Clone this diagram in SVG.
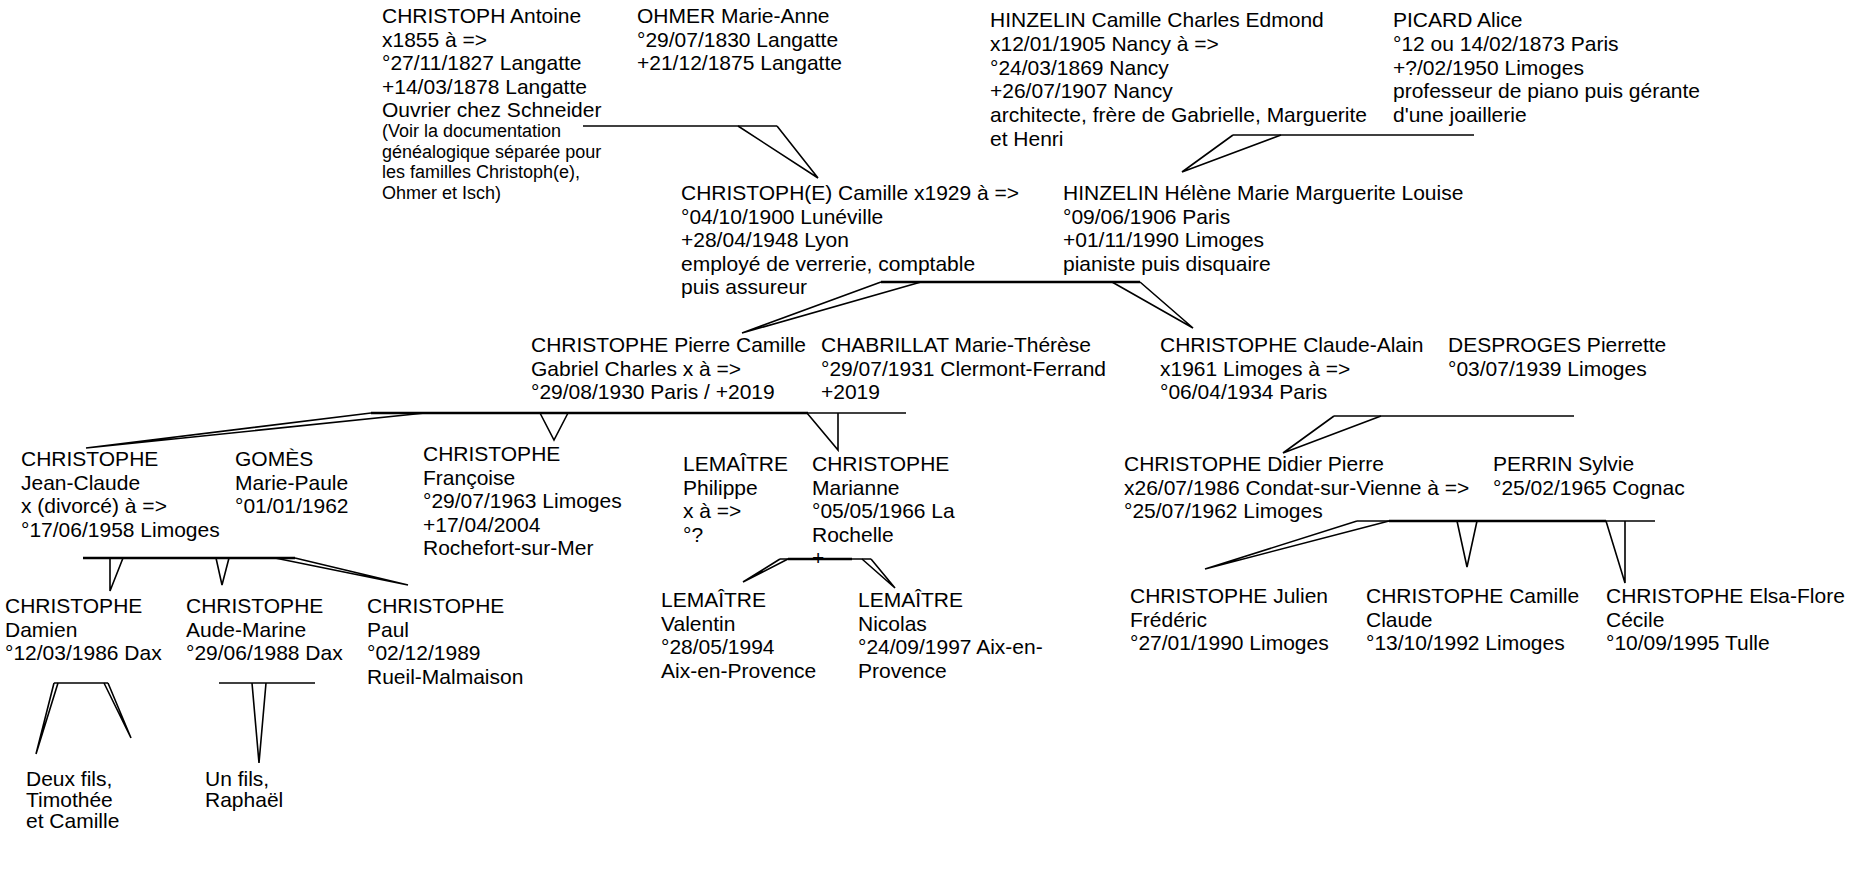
<svg xmlns="http://www.w3.org/2000/svg" width="1867" height="896" viewBox="0 0 1867 896">
<style>
text{font-family:"Liberation Sans",Arial,sans-serif;font-size:21px;fill:#000}
.s{font-size:18px}
.c line,.c polyline{stroke:#000;stroke-width:1.6;fill:none}
.c .t{stroke-width:2.6}
</style>
<rect width="1867" height="896" fill="#fff"/>
<g id="n-antoine"><text x="382" y="23"><tspan x="382">CHRISTOPH Antoine</tspan><tspan x="382" dy="23.5">x1855 à =&gt;</tspan><tspan x="382" dy="23.5">°27/11/1827 Langatte</tspan><tspan x="382" dy="23.5">+14/03/1878 Langatte</tspan><tspan x="382" dy="23.5">Ouvrier chez Schneider</tspan></text>
<text class="s" x="382" y="137"><tspan x="382">(Voir la documentation</tspan><tspan x="382" dy="20.6">généalogique séparée pour</tspan><tspan x="382" dy="20.6">les familles Christoph(e),</tspan><tspan x="382" dy="20.6">Ohmer et Isch)</tspan></text></g>
<g id="n-ohmer"><text x="637" y="23"><tspan x="637">OHMER Marie-Anne</tspan><tspan x="637" dy="23.5">°29/07/1830 Langatte</tspan><tspan x="637" dy="23.5">+21/12/1875 Langatte</tspan></text></g>
<g id="n-hinzelin-c"><text x="990" y="27"><tspan x="990">HINZELIN Camille Charles Edmond</tspan><tspan x="990" dy="23.8">x12/01/1905 Nancy à =&gt;</tspan><tspan x="990" dy="23.8">°24/03/1869 Nancy</tspan><tspan x="990" dy="23.8">+26/07/1907 Nancy</tspan><tspan x="990" dy="23.8">architecte, frère de Gabrielle, Marguerite</tspan><tspan x="990" dy="23.8">et Henri</tspan></text></g>
<g id="n-picard"><text x="1393" y="27"><tspan x="1393">PICARD Alice</tspan><tspan x="1393" dy="23.8">°12 ou 14/02/1873 Paris</tspan><tspan x="1393" dy="23.8">+?/02/1950 Limoges</tspan><tspan x="1393" dy="23.8">professeur de piano puis gérante</tspan><tspan x="1393" dy="23.8">d'une joaillerie</tspan></text></g>
<g id="n-camille"><text x="681" y="200"><tspan x="681">CHRISTOPH(E) Camille x1929 à =&gt;</tspan><tspan x="681" dy="23.5">°04/10/1900 Lunéville</tspan><tspan x="681" dy="23.5">+28/04/1948 Lyon</tspan><tspan x="681" dy="23.5">employé de verrerie, comptable</tspan><tspan x="681" dy="23.5">puis assureur</tspan></text></g>
<g id="n-helene"><text x="1063" y="200"><tspan x="1063">HINZELIN Hélène Marie Marguerite Louise</tspan><tspan x="1063" dy="23.5">°09/06/1906 Paris</tspan><tspan x="1063" dy="23.5">+01/11/1990 Limoges</tspan><tspan x="1063" dy="23.5">pianiste puis disquaire</tspan></text></g>
<g id="n-pierre"><text x="531" y="352"><tspan x="531">CHRISTOPHE Pierre Camille</tspan><tspan x="531" dy="23.5">Gabriel Charles x à =&gt;</tspan><tspan x="531" dy="23.5">°29/08/1930 Paris / +2019</tspan></text></g>
<g id="n-chabrillat"><text x="821" y="352"><tspan x="821">CHABRILLAT Marie-Thérèse</tspan><tspan x="821" dy="23.5">°29/07/1931 Clermont-Ferrand</tspan><tspan x="821" dy="23.5">+2019</tspan></text></g>
<g id="n-claude-alain"><text x="1160" y="352"><tspan x="1160">CHRISTOPHE Claude-Alain</tspan><tspan x="1160" dy="23.5">x1961 Limoges à =&gt;</tspan><tspan x="1160" dy="23.5">°06/04/1934 Paris</tspan></text></g>
<g id="n-desproges"><text x="1448" y="352"><tspan x="1448">DESPROGES Pierrette</tspan><tspan x="1448" dy="23.5">°03/07/1939 Limoges</tspan></text></g>
<g id="n-jean-claude"><text x="21" y="466"><tspan x="21">CHRISTOPHE</tspan><tspan x="21" dy="23.5">Jean-Claude</tspan><tspan x="21" dy="23.5">x (divorcé) à =&gt;</tspan><tspan x="21" dy="23.5">°17/06/1958 Limoges</tspan></text></g>
<g id="n-gomes"><text x="235" y="466"><tspan x="235">GOMÈS</tspan><tspan x="235" dy="23.5">Marie-Paule</tspan><tspan x="235" dy="23.5">°01/01/1962</tspan></text></g>
<g id="n-francoise"><text x="423" y="461"><tspan x="423">CHRISTOPHE</tspan><tspan x="423" dy="23.5">Françoise</tspan><tspan x="423" dy="23.5">°29/07/1963 Limoges</tspan><tspan x="423" dy="23.5">+17/04/2004</tspan><tspan x="423" dy="23.5">Rochefort-sur-Mer</tspan></text></g>
<g id="n-lemaitre-p"><text x="683" y="471"><tspan x="683">LEMAÎTRE</tspan><tspan x="683" dy="23.5">Philippe</tspan><tspan x="683" dy="23.5">x à =&gt;</tspan><tspan x="683" dy="23.5">°?</tspan></text></g>
<g id="n-marianne"><text x="812" y="471"><tspan x="812">CHRISTOPHE</tspan><tspan x="812" dy="23.5">Marianne</tspan><tspan x="812" dy="23.5">°05/05/1966 La</tspan><tspan x="812" dy="23.5">Rochelle</tspan><tspan x="812" dy="23.5">+</tspan></text></g>
<g id="n-didier"><text x="1124" y="471"><tspan x="1124">CHRISTOPHE Didier Pierre</tspan><tspan x="1124" dy="23.5">x26/07/1986 Condat-sur-Vienne à =&gt;</tspan><tspan x="1124" dy="23.5">°25/07/1962 Limoges</tspan></text></g>
<g id="n-perrin"><text x="1493" y="471"><tspan x="1493">PERRIN Sylvie</tspan><tspan x="1493" dy="23.5">°25/02/1965 Cognac</tspan></text></g>
<g id="n-damien"><text x="5" y="613"><tspan x="5">CHRISTOPHE</tspan><tspan x="5" dy="23.5">Damien</tspan><tspan x="5" dy="23.5">°12/03/1986 Dax</tspan></text></g>
<g id="n-aude"><text x="186" y="613"><tspan x="186">CHRISTOPHE</tspan><tspan x="186" dy="23.5">Aude-Marine</tspan><tspan x="186" dy="23.5">°29/06/1988 Dax</tspan></text></g>
<g id="n-paul"><text x="367" y="613"><tspan x="367">CHRISTOPHE</tspan><tspan x="367" dy="23.5">Paul</tspan><tspan x="367" dy="23.5">°02/12/1989</tspan><tspan x="367" dy="23.5">Rueil-Malmaison</tspan></text></g>
<g id="n-valentin"><text x="661" y="607"><tspan x="661">LEMAÎTRE</tspan><tspan x="661" dy="23.5">Valentin</tspan><tspan x="661" dy="23.5">°28/05/1994</tspan><tspan x="661" dy="23.5">Aix-en-Provence</tspan></text></g>
<g id="n-nicolas"><text x="858" y="607"><tspan x="858">LEMAÎTRE</tspan><tspan x="858" dy="23.5">Nicolas</tspan><tspan x="858" dy="23.5">°24/09/1997 Aix-en-</tspan><tspan x="858" dy="23.5">Provence</tspan></text></g>
<g id="n-julien"><text x="1130" y="603"><tspan x="1130">CHRISTOPHE Julien</tspan><tspan x="1130" dy="23.5">Frédéric</tspan><tspan x="1130" dy="23.5">°27/01/1990 Limoges</tspan></text></g>
<g id="n-camille-c"><text x="1366" y="603"><tspan x="1366">CHRISTOPHE Camille</tspan><tspan x="1366" dy="23.5">Claude</tspan><tspan x="1366" dy="23.5">°13/10/1992 Limoges</tspan></text></g>
<g id="n-elsa"><text x="1606" y="603"><tspan x="1606">CHRISTOPHE Elsa-Flore</tspan><tspan x="1606" dy="23.5">Cécile</tspan><tspan x="1606" dy="23.5">°10/09/1995 Tulle</tspan></text></g>
<g id="n-deux-fils"><text x="26" y="786"><tspan x="26">Deux fils,</tspan><tspan x="26" dy="21.2">Timothée</tspan><tspan x="26" dy="21.2">et Camille</tspan></text></g>
<g id="n-un-fils"><text x="205" y="786"><tspan x="205">Un fils,</tspan><tspan x="205" dy="21.2">Raphaël</tspan></text></g>
<g id="connectors" class="c">
<line x1="583" y1="126" x2="777" y2="126"/><polyline points="738,126 818,178 777,126"/>
<line x1="1233" y1="135" x2="1474" y2="135"/><polyline points="1233,135 1182,172 1281,135"/>
<line class="t" x1="881" y1="282" x2="1140" y2="282"/><polyline points="881,282 742,333 921,282"/><polyline points="1112,282 1193,328 1140,282"/>
<line class="t" x1="371" y1="413" x2="808" y2="413"/><line x1="808" y1="413" x2="906" y2="413"/><polyline points="371,413 86,448 425,413"/><polyline points="540,413 554,440 568,413"/><polyline points="807,413 838,450 838,413"/>
<line x1="1334" y1="416" x2="1574" y2="416"/><polyline points="1334,416 1283,453 1381,416"/>
<line x1="1357" y1="521" x2="1655" y2="521"/><line class="t" x1="1389" y1="521" x2="1606" y2="521"/><polyline points="1357,521 1205,569 1389,521"/><polyline points="1457,521 1467,567 1477,521"/><polyline points="1606,521 1625,583 1625,521"/>
<line class="t" x1="83" y1="558" x2="295" y2="558"/><polyline points="110,558 110,591 123,558"/><polyline points="216,558 222,585 229,558"/><polyline points="275,558 408,585 295,558"/>
<line x1="780" y1="559" x2="871" y2="559"/><line class="t" x1="788" y1="559" x2="852" y2="559"/><polyline points="780,559 743,582 788,559"/><polyline points="862,559 895,588 871,559"/>
<line x1="54" y1="683" x2="108" y2="683"/><polyline points="54,683 36,754 58,683"/><polyline points="104,683 131,738 108,683"/>
<line x1="219" y1="683" x2="315" y2="683"/><polyline points="252,683 259,763 266,683"/>
</g>
</svg>
